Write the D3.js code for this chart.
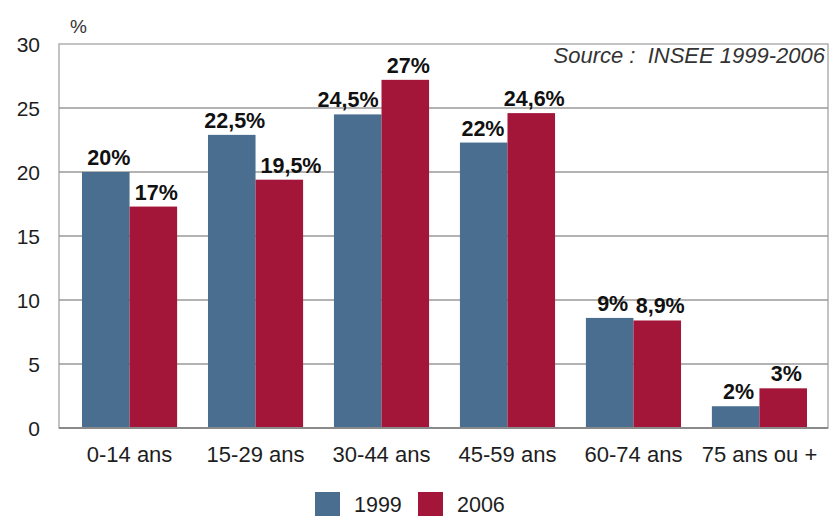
<!DOCTYPE html>
<html>
<head>
<meta charset="utf-8">
<script src="https://cdn.jsdelivr.net/npm/d3@7"></script>
<style>
  html, body { margin: 0; padding: 0; background: #fff; }
  svg { display: block; font-family: "Liberation Sans", Arial, sans-serif; }
</style>
</head>
<body>
<svg id="chart" width="830" height="516"></svg>
<script>
// ---- data ----
const categories = ["0-14 ans", "15-29 ans", "30-44 ans", "45-59 ans", "60-74 ans", "75 ans ou +"];
const seriesNames = ["1999", "2006"];
const values1999 = [20, 22.9, 24.5, 22.3, 8.6, 1.7];
const values2006 = [17.3, 19.4, 27.2, 24.6, 8.4, 3.1];
const labels1999 = ["20%", "22,5%", "24,5%", "22%", "9%", "2%"];
const labels2006 = ["17%", "19,5%", "27%", "24,6%", "8,9%", "3%"];
const yTicks = [0, 5, 10, 15, 20, 25, 30];
const sourceText = "Source :\u00a0 INSEE 1999-2006";
const unitText = "%";

// ---- layout ----
const colors = ["#4a6e8f", "#a3163a"];
const plot = { left: 59, right: 828, top: 44, bottom: 428 };
const svg = d3.select("#chart");

const x0 = d3.scaleBand().domain(categories).range([82, 807]).paddingInner(0.245).paddingOuter(0);
const x1 = d3.scaleBand().domain(seriesNames).range([0, x0.bandwidth()]);
const y = d3.scaleLinear().domain([0, 30]).range([plot.bottom, plot.top]);

// frame
svg.append("rect")
  .attr("x", plot.left).attr("y", plot.top)
  .attr("width", plot.right - plot.left).attr("height", plot.bottom - plot.top)
  .attr("fill", "none").attr("stroke", "#b0b0b0").attr("stroke-width", 1.5);

// gridlines
svg.append("g").selectAll("line")
  .data(yTicks.filter(d => d > 0 && d < 30))
  .join("line")
  .attr("x1", plot.left).attr("x2", plot.right)
  .attr("y1", d => y(d)).attr("y2", d => y(d))
  .attr("stroke", "#9a9a9a").attr("stroke-width", 1.5);

// y axis labels
const yAxis = d3.axisLeft(y).tickValues(yTicks).tickSize(0).tickPadding(0);
const gy = svg.append("g").attr("transform", `translate(40,0)`).call(yAxis);
gy.select(".domain").remove();
gy.selectAll("text")
  .attr("font-size", 21).attr("fill", "#1e1e1e")
  .attr("font-family", "Liberation Sans, Arial, sans-serif")
  .attr("dy", "0.36em");

// unit
svg.append("text").attr("x", 70).attr("y", 33).attr("font-size", 19).attr("fill", "#333").text(unitText);

// source
svg.append("text").attr("x", 825).attr("y", 63).attr("text-anchor", "end")
  .attr("font-size", 22).attr("font-style", "italic").attr("fill", "#333").text(sourceText);

// bars
const rows = categories.map((c, i) => ({
  cat: c,
  items: [
    { s: seriesNames[0], v: values1999[i], label: labels1999[i] },
    { s: seriesNames[1], v: values2006[i], label: labels2006[i] }
  ]
}));

const groups = svg.append("g").selectAll("g")
  .data(rows).join("g")
  .attr("transform", d => `translate(${x0(d.cat)},0)`);

groups.selectAll("rect")
  .data(d => d.items).join("rect")
  .attr("x", d => x1(d.s))
  .attr("y", d => y(d.v))
  .attr("width", x1.bandwidth())
  .attr("height", d => y(0) - y(d.v))
  .attr("fill", (d, i) => colors[i]);

// value labels, nudged sideways to avoid the neighbouring taller bar
const bw = x1.bandwidth();
groups.each(function(row) {
  const g = d3.select(this);
  row.items.forEach((d, i) => {
    const other = row.items[1 - i];
    const cx = x1(d.s) + bw / 2;
    const t = g.append("text")
      .attr("y", y(d.v) - 7)
      .attr("text-anchor", "middle")
      .attr("font-size", 21.5).attr("font-weight", "bold").attr("fill", "#111")
      .text(d.label);
    const w = t.node().getComputedTextLength();
    let dx;
    if (i === 0) {
      dx = 3;
      if (y(other.v) < y(d.v) - 7 && cx + dx + w / 2 > x1(other.s)) dx = (x1(other.s) - 3) - (cx + w / 2);
    } else {
      dx = 3;
      if (y(other.v) < y(d.v) - 7 + 1 && cx + dx - w / 2 < x1(d.s) + 4) dx = (x1(d.s) + 5) - (cx - w / 2);
    }
    t.attr("x", cx + dx);
  });
});

// bottom axis line
svg.append("line")
  .attr("x1", plot.left).attr("x2", plot.right)
  .attr("y1", plot.bottom).attr("y2", plot.bottom)
  .attr("stroke", "#8a8a8a").attr("stroke-width", 2);

// x labels
const xAxis = d3.axisBottom(x0).tickSize(0).tickPadding(0);
const gx = svg.append("g").attr("transform", `translate(0,${plot.bottom})`).call(xAxis);
gx.select(".domain").remove();
gx.selectAll("text")
  .attr("font-size", 22).attr("fill", "#1e1e1e")
  .attr("font-family", "Liberation Sans, Arial, sans-serif")
  .attr("dy", null).attr("y", 34);

// legend
const legendX = [315, 418];
const leg = svg.append("g").selectAll("g").data(seriesNames).join("g")
  .attr("transform", (d, i) => `translate(${legendX[i]},492)`);
leg.append("rect").attr("width", 25).attr("height", 25).attr("fill", (d, i) => colors[i]);
leg.append("text").attr("x", 39).attr("y", 20).attr("font-size", 21.5).attr("fill", "#1e1e1e").text(d => d);
</script>
</body>
</html>
